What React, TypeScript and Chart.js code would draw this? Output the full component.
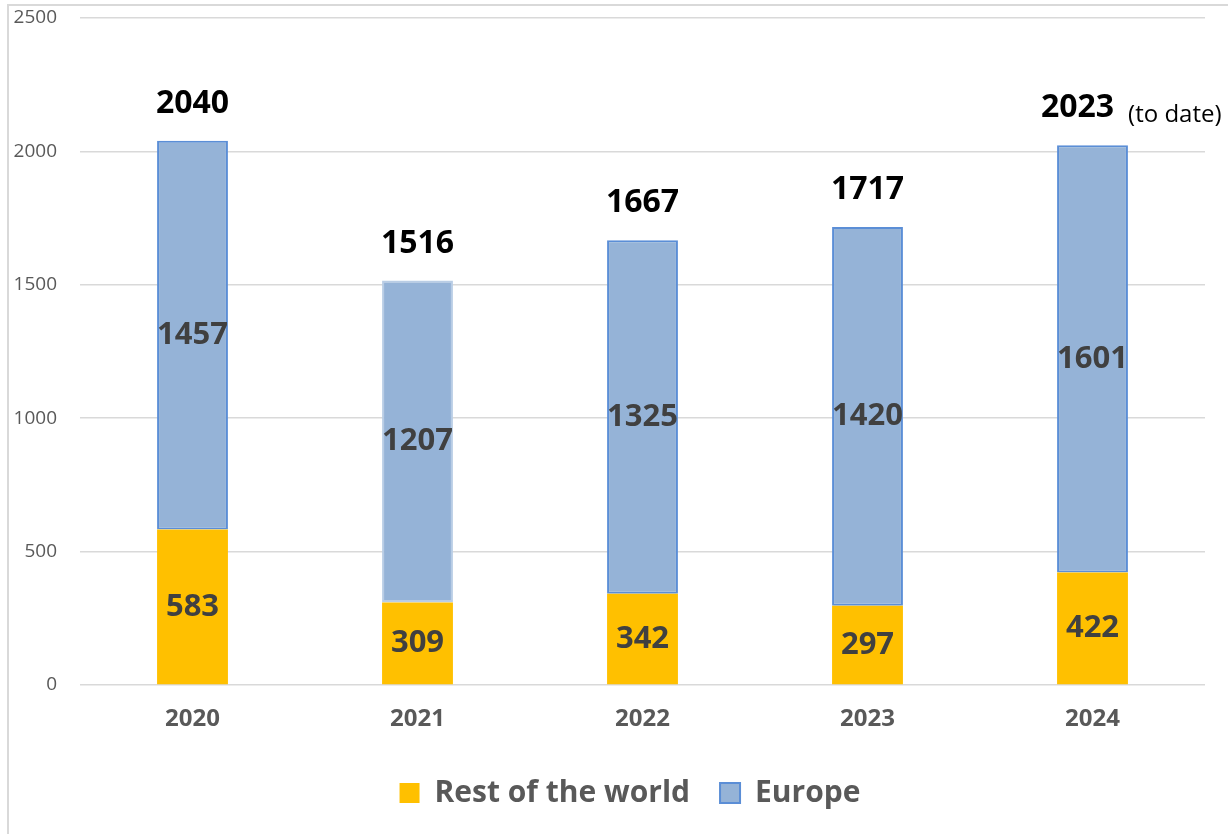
import React, { useEffect, useRef } from "react";
import { Chart, registerables } from "chart.js";

Chart.register(...registerables);

const categories = ["2020", "2021", "2022", "2023", "2024"];
const restOfWorld = [583, 309, 342, 297, 422];
const europe = [1457, 1207, 1325, 1420, 1601];
const totalNotes = ["", "", "", "", "(to date)"];
const yTicks = [0, 500, 1000, 1500, 2000, 2500];
const seriesNames = ["Rest of the world", "Europe"];

const FONT = "'Open Sans', sans-serif";

export default function App() {
  const ref = useRef<HTMLCanvasElement>(null);

  useEffect(() => {
    document.body.style.margin = "0";
    const canvas = ref.current;
    if (!canvas) return;

    const framePlugin = {
      id: "frame",
      afterLayout(chart: any) {
        // let the y-axis tick labels extend left of the axis box without being clipped
        if (chart.scales.y) chart.scales.y.left = 0;
      },
      beforeDraw(chart: any) {
        const c = chart.ctx;
        c.save();
        c.strokeStyle = "#d9d9d9";
        c.lineWidth = 2;
        c.beginPath();
        c.moveTo(8, chart.height);
        c.lineTo(8, 5);
        c.lineTo(chart.width, 5);
        c.stroke();
        c.restore();
      },
    };

    const labelPlugin = {
      id: "barLabels",
      afterDatasetsDraw(chart: any) {
        const c = chart.ctx;
        c.save();
        c.textAlign = "center";
        c.textBaseline = "middle";
        c.font = `bold 31px ${FONT}`;
        c.fillStyle = "#404040";
        chart.data.datasets.forEach((ds: any, di: number) => {
          const meta = chart.getDatasetMeta(di);
          meta.data.forEach((el: any, i: number) => {
            c.fillText(String(ds.data[i]), el.x, (el.y + el.base) / 2);
          });
        });
        const topMeta = chart.getDatasetMeta(chart.data.datasets.length - 1);
        topMeta.data.forEach((el: any, i: number) => {
          const total = String(restOfWorld[i] + europe[i]);
          const baseY = el.y - 28;
          c.font = `bold 32px ${FONT}`;
          c.fillStyle = "#000000";
          c.textBaseline = "alphabetic";
          c.textAlign = "center";
          const shift = totalNotes[i] ? -15 : 0;
          c.fillText(total, el.x + shift, baseY);
          if (totalNotes[i]) {
            const w = c.measureText(total).width;
            c.font = `24px ${FONT}`;
            c.textAlign = "left";
            c.fillText(totalNotes[i], el.x + shift + w / 2 + 14, baseY + 5);
          }
        });
        c.restore();
      },
    };

    const chart = new Chart(canvas, {
      type: "bar",
      data: {
        labels: categories,
        datasets: [
          {
            label: seriesNames[0],
            data: restOfWorld,
            backgroundColor: "#FFC000",
            borderWidth: 0,
          },
          {
            label: seriesNames[1],
            data: europe,
            backgroundColor: "#95B3D7",
            borderColor: (ctx: any) => (ctx.dataIndex === 1 ? "#B9CDE5" : "#5B8ED6"),
            borderWidth: 2,
            borderSkipped: false,
          },
        ],
      },
      options: {
        animation: false,
        responsive: true,
        maintainAspectRatio: false,
        datasets: {
          bar: { barPercentage: 0.315, categoryPercentage: 1 },
        },
        layout: { padding: { left: 55, right: 23, top: 18, bottom: 20 } },
        scales: {
          x: {
            stacked: true,
            grid: { display: false, drawTicks: false },
            border: { display: false },
            ticks: {
              padding: 20,
              color: "#595959",
              font: { family: FONT, size: 24, weight: "bold" },
            },
            afterFit: (s: any) => {
              s.height = 63;
            },
          },
          y: {
            stacked: true,
            min: 0,
            max: 2500,
            grid: {
              color: "#d9d9d9",
              lineWidth: 1.5,
              drawTicks: true,
              tickLength: 23,
              tickColor: "rgba(0,0,0,0)",
            },
            border: { display: false },
            ticks: {
              padding: 0,
              color: "#595959",
              font: { family: FONT, size: 19 },
              callback: (v: any) => String(v),
            },
            afterBuildTicks: (s: any) => {
              s.ticks = yTicks.map((v) => ({ value: v }));
            },
            afterFit: (s: any) => {
              s.width = 25;
            },
          },
        },
        plugins: {
          tooltip: { enabled: false },
          legend: {
            position: "bottom",
            maxHeight: 66,
            labels: {
              boxWidth: 20,
              boxHeight: 20,
              padding: 30,
              color: "#595959",
              font: { family: FONT, size: 30, weight: "bold" },
            },
          },
        },
      },
      plugins: [framePlugin, labelPlugin],
    });

    return () => chart.destroy();
  }, []);

  return (
    <div style={{ position: "absolute", left: 0, top: 0, width: 1228, height: 834 }}>
      <canvas ref={ref} />
    </div>
  );
}
